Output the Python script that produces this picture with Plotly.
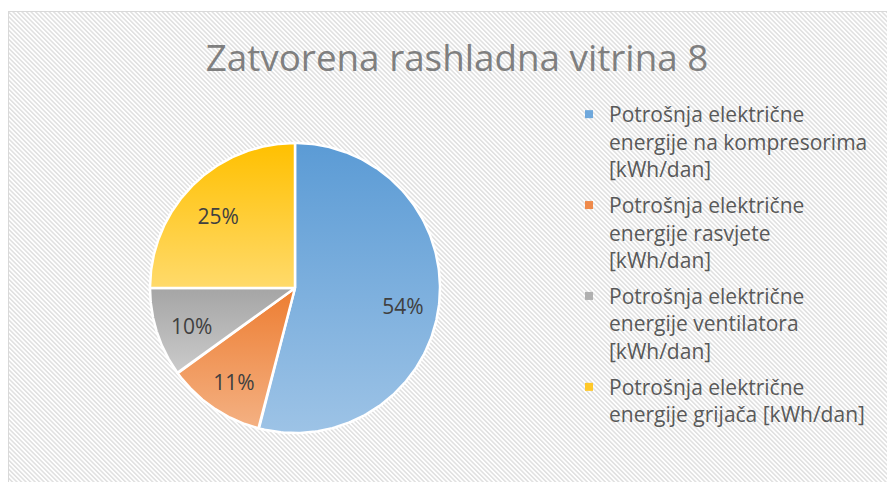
import base64
import numpy as np
import plotly.graph_objects as go

# Daily energy split of closed refrigerated display case no. 8 (share, %)
categories = [
    "Potrošnja električne<br>energije na kompresorima<br>[kWh/dan]",
    "Potrošnja električne<br>energije rasvjete<br>[kWh/dan]",
    "Potrošnja električne<br>energije ventilatora<br>[kWh/dan]",
    "Potrošnja električne<br>energije grijača [kWh/dan]",
]
values = [54, 11, 10, 25]
# gradient colours per slice: (top, bottom)
colors_top = ["#5B9BD5", "#ED7D31", "#A5A5A5", "#FFC000"]
colors_bottom = ["#9DC3E6", "#F4B183", "#CBCBCB", "#FFDA6B"]
colors_legend = ["#6FA8DC", "#EF8A4B", "#B0B0B0", "#FFC829"]

W, H = 887, 482
CX, CY, R = 295, 288, 145  # pie centre / radius in pixels

total = float(sum(values))
fracs = [v / total for v in values]
starts = np.concatenate([[0.0], np.cumsum(fracs)[:-1]])

fig = go.Figure()

# slices: clockwise from 12 o'clock, each filled with a vertical gradient
for i, (f, s) in enumerate(zip(fracs, starts)):
    th = np.linspace(s, s + f, 200) * 2 * np.pi
    xs = np.concatenate([[0.0], np.sin(th), [0.0]])
    ys = np.concatenate([[0.0], np.cos(th), [0.0]])
    fig.add_trace(go.Scatter(
        x=xs, y=ys, mode="lines", fill="toself",
        line=dict(color="white", width=2.5),
        fillgradient=dict(
            type="vertical",
            start=float(ys.min()), stop=float(ys.max()),
            colorscale=[[0, colors_bottom[i]], [1, colors_top[i]]],
        ),
        showlegend=False, hoverinfo="skip",
    ))

# percentage labels at 75 % of the radius, on each slice's mid angle
mid = (starts + np.array(fracs) / 2) * 2 * np.pi
fig.add_trace(go.Scatter(
    x=0.75 * np.sin(mid), y=0.75 * np.cos(mid) - 0.05, mode="text",
    text=[f"{round(f * 100)}%" for f in fracs],
    textfont=dict(family="Open Sans", size=21, color="#404040"),
    showlegend=False, hoverinfo="skip",
))

# legend entries
for i, name in enumerate(categories):
    fig.add_trace(go.Scatter(
        x=[None], y=[None], mode="markers", name=name,
        legendgroup=f"g{i}",
        marker=dict(symbol="square", size=8, color=colors_legend[i]),
    ))

# striped chart-area background with thin border
svg = f"""<svg xmlns='http://www.w3.org/2000/svg' width='{W}' height='{H}'>
<defs><pattern id='p' width='3.2' height='3.2' patternUnits='userSpaceOnUse' patternTransform='rotate(-45)'>
<rect width='3.2' height='3.2' fill='#ffffff'/><rect width='1.5' height='3.2' fill='#e0e0e0'/></pattern></defs>
<rect width='{W}' height='{H}' fill='#ffffff'/>
<rect x='8.5' y='11.5' width='{W + 20}' height='{H + 20}' fill='url(#p)' stroke='#d9d9d9' stroke-width='1'/>
</svg>"""
src = "data:image/svg+xml;base64," + base64.b64encode(svg.encode()).decode()

fig.update_layout(
    width=W, height=H,
    margin=dict(l=0, r=0, t=0, b=0),
    paper_bgcolor="white", plot_bgcolor="rgba(0,0,0,0)",
    images=[dict(source=src, xref="paper", yref="paper", x=0, y=1,
                 sizex=1, sizey=1, xanchor="left", yanchor="top",
                 sizing="stretch", layer="below")],
    xaxis=dict(visible=False, range=[(0 - CX) / R, (W - CX) / R], fixedrange=True),
    yaxis=dict(visible=False, range=[(CY - H) / R, CY / R], fixedrange=True),
    title=dict(
        text="Zatvorena rashladna vitrina 8",
        font=dict(family="Open Sans", size=36.8, color="#7F7F7F"),
        x=457 / W, xanchor="center", y=1 - 58 / H, yanchor="middle",
    ),
    legend=dict(
        x=569 / W, xanchor="left", y=1 - 94 / H, yanchor="top",
        font=dict(family="Open Sans", size=21, color="#595959"),
        bgcolor="rgba(0,0,0,0)", valign="top", tracegroupgap=6,
        itemclick=False, itemdoubleclick=False,
    ),
    showlegend=True,
)

fig.write_html("out.html")
